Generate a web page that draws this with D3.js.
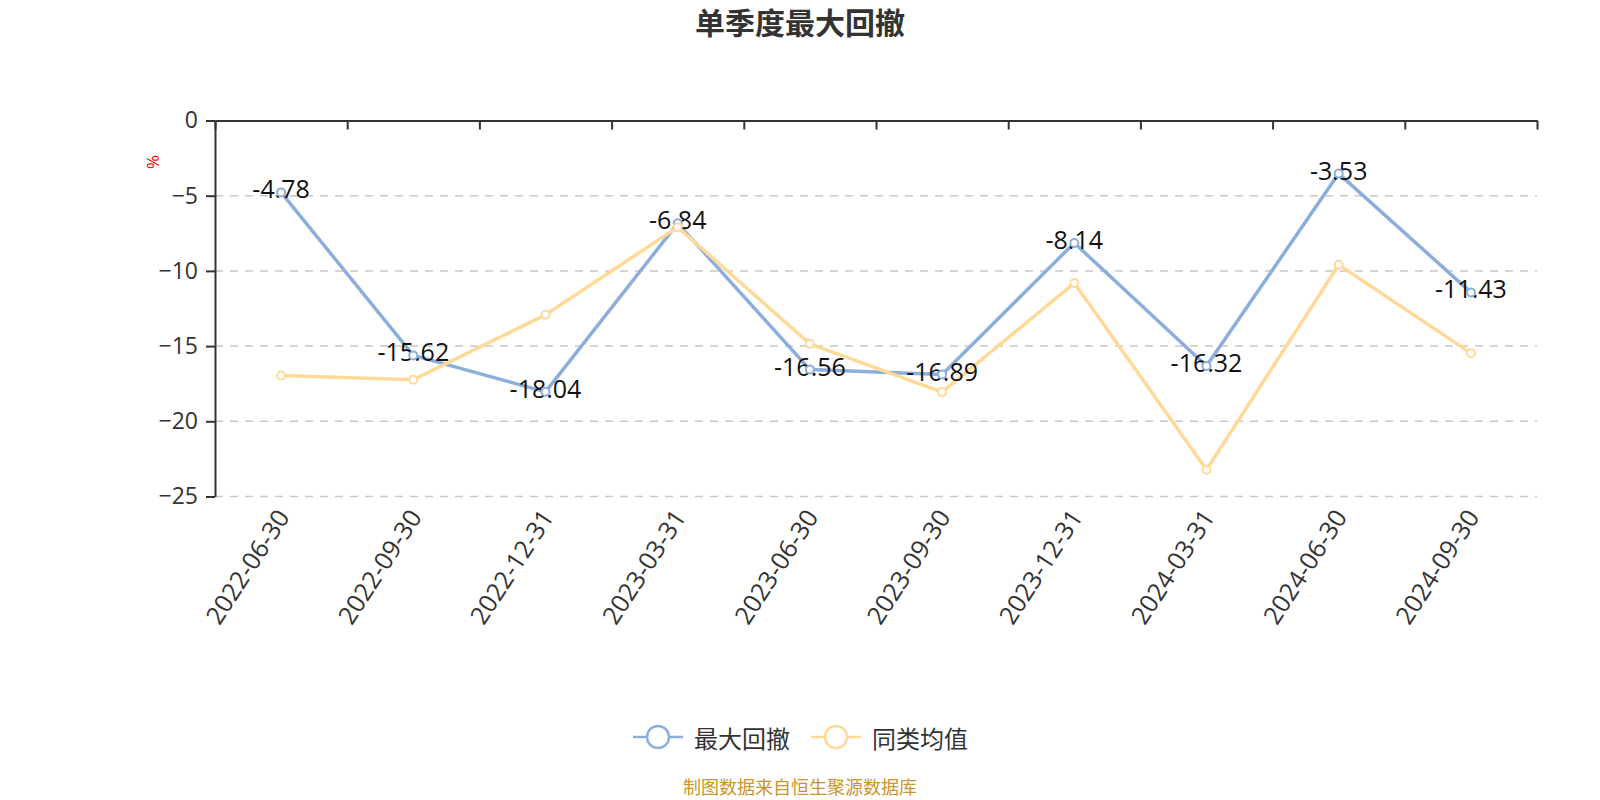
<!DOCTYPE html>
<html>
<head>
<meta charset="utf-8">
<script src="https://cdn.jsdelivr.net/npm/d3@7/dist/d3.min.js"></script>
<style>
  body { margin: 0; background: #fff; }
  svg { font-family: "Open Sans", "Noto Sans CJK SC", sans-serif; }
</style>
</head>
<body>
<svg id="chart" width="1600" height="800"></svg>
<script>
var dates = ['2022-06-30', '2022-09-30', '2022-12-31', '2023-03-31', '2023-06-30',
    '2023-09-30', '2023-12-31', '2024-03-31', '2024-06-30', '2024-09-30'];
var maxDrawdown = [-4.78, -15.62, -18.04, -6.84, -16.56, -16.89, -8.14, -16.32, -3.53, -11.43];
var peerAvg = [-16.95, -17.24, -12.92, -7.09, -14.85, -18.06, -10.81, -23.22, -9.59, -15.47];
var yTicks = [0, -5, -10, -15, -20, -25];

var seriesNames = ['最大回撤', '同类均值'];
var colors = ['#8caedc', '#ffd998'];

var svg = d3.select('#chart');
// note: "top" is taken by window.top, so use plot* names
var plotLeft = 215, plotRight = 1537, plotTop = 120.5, plotBottom = 496.5;
var cjk = '"Noto Sans CJK SC", sans-serif';

var x = d3.scaleBand().domain(dates).range([plotLeft, plotRight]).padding(0);
var xEdge = d3.scaleLinear().domain([0, dates.length]).range([plotLeft, plotRight]);
var y = d3.scaleLinear().domain([-25, 0]).range([plotBottom, plotTop]);

// title
svg.append('text')
    .attr('x', 800).attr('y', 34)
    .attr('text-anchor', 'middle')
    .attr('font-family', cjk)
    .attr('font-size', 30).attr('font-weight', 'bold')
    .attr('fill', '#333')
    .text('单季度最大回撤');

// grid lines
svg.append('g').selectAll('line')
    .data(yTicks.filter(function(d) { return d !== 0; }))
    .enter().append('line')
    .attr('x1', plotLeft).attr('x2', plotRight)
    .attr('y1', function(d) { return y(d); })
    .attr('y2', function(d) { return y(d); })
    .attr('stroke', '#c8c8c8')
    .attr('stroke-width', 1.5)
    .attr('stroke-dasharray', '8,7');

// y axis
var yAxis = svg.append('g')
    .attr('transform', 'translate(' + plotLeft + ',0)')
    .call(d3.axisLeft(y).tickValues(yTicks).tickSize(9).tickPadding(8).tickSizeOuter(0));
yAxis.select('.domain').attr('stroke', '#333').attr('stroke-width', 2);
yAxis.selectAll('.tick line').attr('stroke', '#333').attr('stroke-width', 2);
yAxis.selectAll('.tick text')
    .attr('font-size', 23).attr('fill', '#333')
    .attr('font-family', '"Open Sans", sans-serif');

// x axis line at zero with boundary ticks
var xAxis = svg.append('g')
    .attr('transform', 'translate(0,' + y(0) + ')')
    .call(d3.axisBottom(xEdge).ticks(dates.length).tickSize(9).tickFormat('').tickSizeOuter(0));
xAxis.select('.domain').attr('stroke', '#333').attr('stroke-width', 2);
xAxis.selectAll('.tick line').attr('stroke', '#333').attr('stroke-width', 2);

// x labels at the bottom
svg.append('g').selectAll('text')
    .data(dates).enter().append('text')
    .attr('transform', function(d) {
        return 'translate(' + (x(d) + x.bandwidth() / 2 + 1) + ',' + (plotBottom + 15) + ') rotate(-57)';
    })
    .attr('text-anchor', 'end')
    .attr('dominant-baseline', 'central')
    .attr('font-size', 25).attr('fill', '#333')
    .text(function(d) { return d; });

// unit label
svg.append('text')
    .attr('transform', 'translate(152,162) rotate(-90)')
    .attr('text-anchor', 'middle')
    .attr('dominant-baseline', 'central')
    .attr('font-size', 17).attr('fill', '#ff0000')
    .text('%');

var line = d3.line()
    .x(function(d, i) { return x(dates[i]) + x.bandwidth() / 2; })
    .y(function(d) { return y(d); });

[maxDrawdown, peerAvg].forEach(function(vals, k) {
    svg.append('path')
        .datum(vals)
        .attr('d', line)
        .attr('fill', 'none')
        .attr('stroke', colors[k])
        .attr('stroke-width', 3.5)
        .attr('stroke-linejoin', 'round');
});

// value labels for max drawdown
svg.append('g').selectAll('text')
    .data(maxDrawdown).enter().append('text')
    .attr('x', function(d, i) { return x(dates[i]) + x.bandwidth() / 2; })
    .attr('y', function(d) { return y(d) - 4; })
    .attr('text-anchor', 'middle')
    .attr('dominant-baseline', 'central')
    .attr('font-size', 25).attr('fill', '#111')
    .text(function(d) { return d.toFixed(2); });

[maxDrawdown, peerAvg].forEach(function(vals, k) {
    svg.append('g').selectAll('circle')
        .data(vals).enter().append('circle')
        .attr('cx', function(d, i) { return x(dates[i]) + x.bandwidth() / 2; })
        .attr('cy', function(d) { return y(d); })
        .attr('r', 4)
        .attr('fill', '#fff')
        .attr('stroke', colors[k])
        .attr('stroke-width', 2);
});

// legend
var legendX = [633, 811];
seriesNames.forEach(function(name, k) {
    var g = svg.append('g').attr('transform', 'translate(' + legendX[k] + ',737)');
    g.append('line').attr('x1', 0).attr('x2', 50).attr('y1', 0).attr('y2', 0)
        .attr('stroke', colors[k]).attr('stroke-width', 2.5);
    g.append('circle').attr('cx', 25).attr('cy', 0).attr('r', 11)
        .attr('fill', '#fff').attr('stroke', colors[k]).attr('stroke-width', 2.5);
    g.append('text').attr('x', 61).attr('y', 0)
        .attr('dominant-baseline', 'central')
        .attr('font-family', cjk)
        .attr('font-size', 24).attr('fill', '#333')
        .text(name);
});

// source
svg.append('text')
    .attr('x', 800).attr('y', 786)
    .attr('text-anchor', 'middle')
    .attr('dominant-baseline', 'central')
    .attr('font-family', cjk)
    .attr('font-size', 18).attr('fill', '#c9952d')
    .text('制图数据来自恒生聚源数据库');
</script>
</body>
</html>
